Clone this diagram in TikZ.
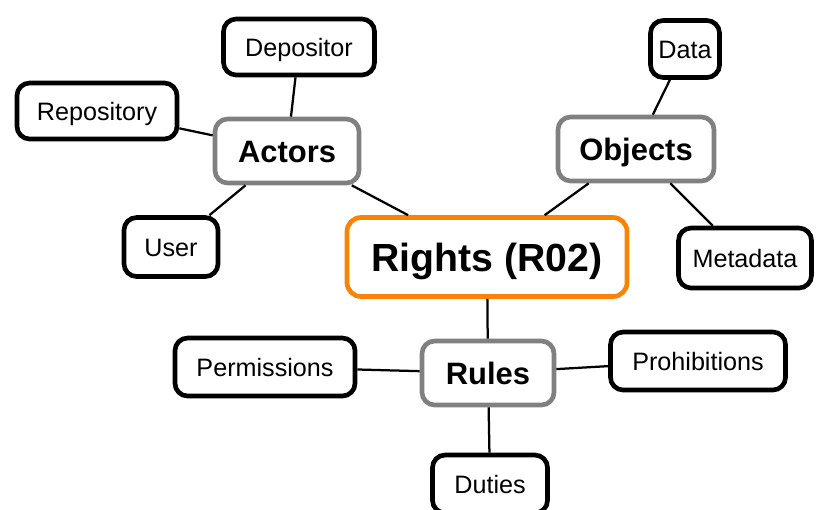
\documentclass[tikz,border=0pt]{standalone}
\usepackage{fontspec}
\setmainfont{Liberation Sans}
\usetikzlibrary{positioning}
\definecolor{hubOrange}{RGB}{250,130,5}
\definecolor{groupGray}{RGB}{128,128,128}
\tikzset{
  leaf/.style={draw=black, line width=3.3pt, rounded corners=9pt, fill=white, inner sep=0pt, text height=12.8pt, text depth=0pt, font=\fontsize{17.9}{20}\selectfont},
  group/.style={draw=groupGray, line width=3.3pt, rounded corners=9pt, fill=white, inner sep=0pt, text height=15.75pt, text depth=0pt, font=\bfseries\fontsize{22}{24}\selectfont},
  hub/.style={draw=hubOrange, line width=3.3pt, rounded corners=10pt, fill=white, inner sep=0pt, text height=20pt, text depth=0pt, font=\bfseries\fontsize{27.9}{30}\selectfont},
  link/.style={line width=1.6pt}
}
\begin{document}
\begin{tikzpicture}[x=0.025cm, y=-0.025cm] % one unit = one pixel, y down
                    \useasboundingbox (0,0) rectangle (819,509);
                    % Central node
                    \node[hub, minimum width=7.0cm, minimum height=1.975cm] (Rights) at (487,257) {Rights (R02)};
                    
                    % Three groups round the centre
                    \node[group, minimum width=3.6cm, minimum height=1.6cm] (Actors) at (287,151) {Actors};
                    \node[group, minimum width=3.9cm, minimum height=1.6cm] (Objects) at (636,149) {Objects};
                    \node[group, minimum width=3.3cm, minimum height=1.6cm] (Rules) at (488,373) {Rules};
                    
                    % Leaves of Actors
                    \node[leaf, minimum width=3.775cm, minimum height=1.4cm] (Depositor) at (299,47) {Depositor};
                    \node[leaf, minimum width=4.0cm, minimum height=1.4cm] (Repository) at (97,111) {Repository};
                    \node[leaf, minimum width=2.35cm, minimum height=1.475cm] (User) at (171,247) {User};
                    
                    % Leaves of Objects
                    \node[leaf, minimum width=1.725cm, minimum height=1.425cm] (Data) at (685,49) {Data};
                    \node[leaf, minimum width=3.325cm, minimum height=1.5cm] (Metadata) at (745,258) {Metadata};
                    
                    % Leaves of Rules
                    \node[leaf, minimum width=4.5cm, minimum height=1.45cm] (Permissions) at (265,367) {Permissions};
                    \node[leaf, minimum width=4.375cm, minimum height=1.45cm] (Prohibitions) at (698,361) {Prohibitions};
                    \node[leaf, minimum width=2.875cm, minimum height=1.45cm] (Duties) at (490,484) {Duties};
                    
                    % Connectors
                    \draw[link] (Rights) -- (Actors);
                    \draw[link] (Rights) -- (Objects);
                    \draw[link] (Rights) -- (Rules);
                    \draw[link] (Actors) -- (Depositor);
                    \draw[link] (Actors) -- (Repository);
                    \draw[link] (Actors) -- (User);
                    \draw[link] (Objects) -- (Data);
                    \draw[link] (Objects) -- (Metadata);
                    \draw[link] (Rules) -- (Permissions);
                    \draw[link] (Rules) -- (Prohibitions);
                    \draw[link] (Rules) -- (Duties);
                    
                \end{tikzpicture}
\end{document}
